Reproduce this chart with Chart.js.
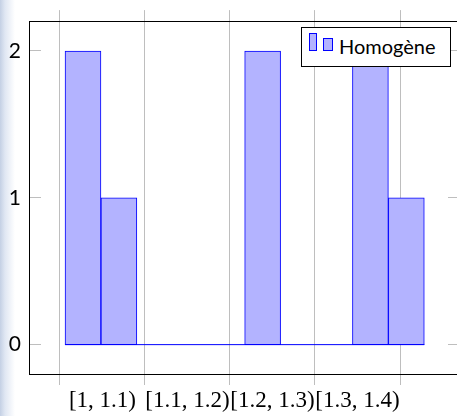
<!DOCTYPE html>
<html>
<head>
<meta charset="utf-8">
<script src="https://cdn.jsdelivr.net/npm/chart.js@4.4.1/dist/chart.umd.min.js"></script>
<style>
body { margin: 0; background: #fff; overflow: hidden; width: 457px; height: 416px; position: relative; }
#fundo { position: absolute; left: 0; top: 0; width: 16px; height: 416px;
  background: linear-gradient(to right, rgb(196,208,228) 0, rgb(224,231,243) 5px, rgba(255,255,255,0) 15px); }
#grafico { position: absolute; left: 0; top: 0; }
.legenda { position: absolute; left: 301px; top: 27px; width: 148px; height: 38px; border: 1px solid #000; background: #fff; }
.legenda .sw { position: absolute; box-sizing: border-box; background: rgb(179,179,255); border: 1px solid rgb(0,0,255); }
.legenda .sw1 { left: 7px; top: 5px; width: 8px; height: 18px; }
.legenda .sw2 { left: 21px; top: 10px; width: 10px; height: 13px; }
.legenda .txt { position: absolute; left: 37px; top: 8px; font: 20px Lato, sans-serif; line-height: 20px; color: #000; white-space: nowrap; }
</style>
</head>
<body>
<div id="fundo"></div>
<canvas id="grafico" width="470" height="416"></canvas>
<div class="legenda"><span class="sw sw1"></span><span class="sw sw2"></span><span class="txt"></span></div>
<script>
// bordas das classes do histograma e contagens
var binEdges = [1.0059, 1.0482, 1.0904, 1.1327, 1.1750, 1.2173, 1.2595, 1.3018, 1.3441, 1.3863, 1.4286];
var counts = [2, 1, 0, 0, 0, 2, 0, 0, 2, 1];
var seriesLabel = 'Homogène';

var xTicks = [1, 1.1, 1.2, 1.3, 1.4];
var xTickLabels = ['[1, 1.1)', '[1.1, 1.2)', '[1.2, 1.3)', '[1.3, 1.4)', ''];
var yTicks = [0, 1, 2];

var gridColor = 'rgb(190,190,190)';

document.querySelector('.legenda .txt').textContent = seriesLabel;

var bars = counts.map(function (c, i) {
    return {x: (binEdges[i] + binEdges[i + 1]) / 2, y: c};
});
var baseline = [{x: binEdges[0], y: 0}, {x: binEdges[binEdges.length - 1], y: 0}];

var moldura = {
    id: 'moldura',
    beforeDatasetsDraw: function (chart) {
        var ctx = chart.ctx, a = chart.chartArea;
        var sx = chart.scales.x, sy = chart.scales.y;
        ctx.save();
        ctx.strokeStyle = gridColor;
        ctx.lineWidth = 1;
        ctx.beginPath();
        xTicks.forEach(function (v) {
            var px = Math.floor(sx.getPixelForValue(v)) + 0.5;
            ctx.moveTo(px, a.top - 11.5);
            ctx.lineTo(px, a.bottom + 11);
        });
        yTicks.forEach(function (v) {
            var py = Math.floor(sy.getPixelForValue(v)) + 0.5;
            ctx.moveTo(a.left, py);
            ctx.lineTo(a.left + 11, py);
            ctx.moveTo(a.right - 11, py);
            ctx.lineTo(a.right, py);
        });
        ctx.stroke();
        ctx.restore();
    },
    afterDatasetsDraw: function (chart) {
        var ctx = chart.ctx, a = chart.chartArea;
        var x0 = Math.floor(a.left) - 0.5, x1 = Math.floor(a.right) + 0.5;
        var y0 = Math.floor(a.top) + 0.5, y1 = Math.floor(a.bottom) + 0.5;
        ctx.save();
        ctx.strokeStyle = '#000';
        ctx.lineWidth = 1;
        ctx.strokeRect(x0, y0, x1 - x0, y1 - y0);
        ctx.restore();
    }
};

var myChart = new Chart(document.getElementById('grafico'), {
    type: 'bar',
    data: {
        datasets: [{
            label: seriesLabel,
            data: bars,
            backgroundColor: 'rgb(179,179,255)',
            borderColor: 'rgb(0,0,255)',
            borderWidth: 1,
            borderSkipped: false,
            barPercentage: 1,
            categoryPercentage: 1
        }, {
            type: 'line',
            data: baseline,
            borderColor: 'rgb(0,0,255)',
            borderWidth: 1,
            pointRadius: 0,
            fill: false
        }]
    },
    options: {
        responsive: false,
        animation: false,
        events: [],
        layout: {padding: {top: 19.5, right: 11, left: 0, bottom: 0}},
        plugins: {legend: {display: false}, tooltip: {enabled: false}},
        scales: {
            x: {
                type: 'linear',
                offset: false,
                min: 0.96471,
                max: 1.46941,
                grid: {display: false, drawTicks: false, offset: false},
                border: {display: false},
                afterBuildTicks: function (scale) {
                    scale.ticks = xTicks.map(function (v) { return {value: v}; });
                },
                afterFit: function (scale) { scale.height = 42; },
                ticks: {
                    autoSkip: false,
                    maxRotation: 0,
                    minRotation: 0,
                    padding: 13,
                    labelOffset: 42.5,
                    color: '#000',
                    font: {family: 'Liberation Serif', size: 23},
                    callback: function (v) {
                        var i = xTicks.indexOf(v);
                        return i < 0 ? '' : xTickLabels[i];
                    }
                }
            },
            y: {
                min: -0.2,
                max: 2.2,
                grid: {display: false, drawTicks: false},
                border: {display: false},
                afterBuildTicks: function (scale) {
                    scale.ticks = yTicks.map(function (v) { return {value: v}; });
                },
                afterFit: function (scale) { scale.width = 30; },
                ticks: {
                    padding: 9,
                    color: '#000',
                    font: {family: 'Lato', size: 21}
                }
            }
        }
    },
    plugins: [moldura]
});
</script>
</body>
</html>
